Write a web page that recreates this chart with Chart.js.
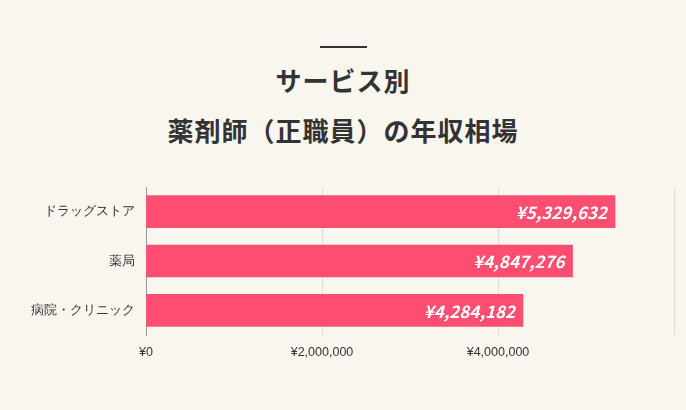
<!DOCTYPE html>
<html><head><meta charset="utf-8">
<script src="https://cdn.jsdelivr.net/npm/chart.js@4/dist/chart.umd.min.js"></script>
<style>
body{margin:0;background:#f9f6ef;font-family:"Noto Sans CJK JP",sans-serif;}
#wrap{position:relative;width:686px;height:410px;}
#rule{position:absolute;left:320px;top:46px;width:47px;height:2px;background:#333;}
#title{position:absolute;left:0;width:686px;top:55px;text-align:center;font-weight:bold;font-size:26px;line-height:50px;letter-spacing:1px;color:#333;}
#box{position:absolute;left:0;top:0;width:686px;height:410px;}
</style></head><body>
<div id="wrap"><div id="rule"></div><div id="title">サービス別<br>薬剤師（正職員）の年収相場</div>
<div id="box"><canvas id="c"></canvas></div></div>
<script>
const categories = ['ドラッグストア', '薬局', '病院・クリニック'];
const salaries = [5329632, 4847276, 4284182];
const yen = v => '¥' + v.toLocaleString('en-US');

const valueLabels = {
  id: 'valueLabels',
  afterDatasetsDraw(chart) {
    const ctx = chart.ctx;
    const meta = chart.getDatasetMeta(0);
    ctx.save();
    ctx.font = 'italic bold 17px "Noto Sans CJK JP", sans-serif';
    ctx.fillStyle = '#fff';
    ctx.textAlign = 'right';
    ctx.textBaseline = 'middle';
    meta.data.forEach((bar, i) => ctx.fillText(yen(salaries[i]), bar.x - 8, bar.y + 1));
    ctx.restore();
  }
};

new Chart(document.getElementById('c'), {
  type: 'bar',
  data: { labels: categories, datasets: [{ data: salaries, backgroundColor: '#fd4e71', barThickness: 32 }] },
  options: {
    indexAxis: 'y', responsive: true, maintainAspectRatio: false, animation: false,
    layout: { padding: { top: 187, right: 12, bottom: 40 } },
    plugins: { legend: { display: false }, tooltip: { enabled: false } },
    scales: {
      x: {
        min: 0, max: 6000000,
        ticks: { stepSize: 2000000, color: '#333', font: { size: 12.5 }, padding: 10, callback: v => v >= 6000000 ? '' : yen(v) },
        grid: { color: '#ddd', drawTicks: false },
        border: { display: false }
      },
      y: {
        ticks: { color: '#333', font: { size: 13 } },
        grid: { display: false },
        border: { color: '#999' },
        afterFit: s => { s.width = 146; }
      }
    }
  },
  plugins: [valueLabels]
});
</script></body></html>
